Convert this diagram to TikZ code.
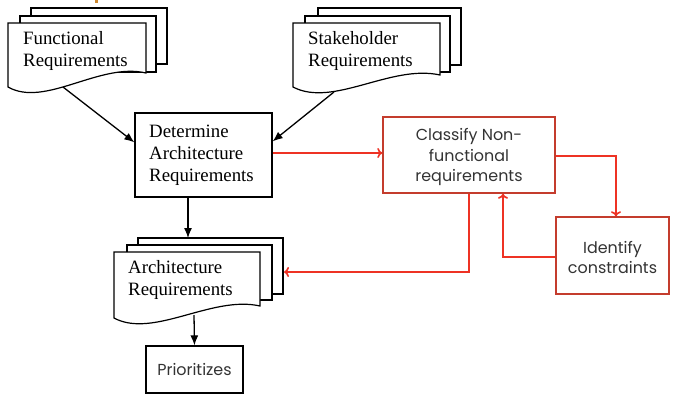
\documentclass[tikz,border=0pt]{standalone}
\usepackage{fontspec}
\setmainfont{Liberation Serif}
\newfontfamily\gothic{Poppins}
\usetikzlibrary{arrows.meta,calc}
\definecolor{arrowred}{RGB}{238,50,36}
\definecolor{boxred}{RGB}{196,60,45}
\definecolor{markorange}{RGB}{205,135,45}
\begin{document}
\begin{tikzpicture}[x=1bp,y=-1bp,
 page/.style={draw=black, fill=white, line width=1.2bp, line join=miter},
 blackbox/.style={draw=black, line width=1.3bp, fill=white},
 redbox/.style={draw=boxred, line width=1.5bp, fill=white},
 blk/.style={draw=black, line width=1.3bp, -{Latex[length=10bp,width=8bp]}},
 redarr/.style={draw=arrowred, line width=1.6bp, -{To[length=5bp,width=10bp]}},
 serif/.style={font=\fontsize{18.9}{22}\selectfont, align=left, inner sep=0, anchor=west},
 sans/.style={font=\gothic\fontsize{16}{20.5}\selectfont, align=center, inner sep=0, text=black!80}]
\useasboundingbox[fill=white] (0,0) rectangle (674,400);
\fill[markorange] (95,0) rectangle (97.5,3);

% Functional Requirements (multi-document)
\path[page] (31,8) rectangle (167,64);
\path[page] (20,16) rectangle (156,72);
\path[page] (146,73) -- (146,23) -- (8,23) -- (8,87) .. controls (45,108) and (100,62) .. cycle;
\node[serif] (func) at (23,51) {Functional\\Requirements};
\coordinate (func-out) at (63,87);

% Stakeholder Requirements (multi-document)
\path[page] (318,8) rectangle (461,65);
\path[page] (305,16) rectangle (450,72);
\path[page] (440,75) -- (440,23) -- (293,23) -- (293,87) .. controls (333,108) and (391,64) .. cycle;
\node[serif] (stake) at (308,51) {Stakeholder\\Requirements};
\coordinate (stake-out) at (334,92);

% Determine Architecture Requirements
\node[blackbox, minimum width=137bp, minimum height=84bp, inner sep=0] (det) at (203.5,155) {};
\node[serif] (dettext) at (149,155) {Determine\\Architecture\\Requirements};

% Architecture Requirements (multi-document)
\path[page] (138,238) rectangle (283,294);
\path[page] (127,245) rectangle (272,300);
\path[page] (260,306) -- (260,252) -- (114,252) -- (114,318) .. controls (153,339) and (212,295) .. cycle;
\node[serif] (arch) at (128,280) {Architecture\\Requirements};
\coordinate (arch-top) at (188,238);
\coordinate (arch-in) at (284,272);
\coordinate (arch-out) at (194,315);

% Prioritizes
\node[blackbox, minimum width=97bp, minimum height=47bp, inner sep=0, sans] (prio) at (194.5,369.5) {Prioritizes};

% Classify Non-functional requirements
\node[redbox, minimum width=172bp, minimum height=76bp, inner sep=0] (cls) at (469,155) {};
\node[sans] (clstext) at (469,157) {Classify Non-\\functional\\requirements};

% Identify constraints
\node[redbox, minimum width=113bp, minimum height=77bp, inner sep=0] (ident) at (612.5,255.5) {};
\node[sans] (identtext) at (612.5,257.5) {Identify\\constraints};

% black connectors
\draw[blk] (func-out) -- ($(det.north west)+(0,30)$);
\draw[blk] (stake-out) -- ($(det.north east)+(0,29)$);
\draw[blk] ($(det.south)+(-15.5,0)$) -- (arch-top);
\draw[blk] (arch-out) -- (prio.north);

% red connectors
\draw[redarr] ($(det.east)+(0,-2)$) -- ($(cls.west)+(0,-2)$);
\draw[redarr] ($(cls.east)+(0,1)$) -| ($(ident.north)+(3.5,0)$);
\draw[redarr] ($(ident.west)+(0,1.5)$) -| ($(cls.south)+(34,0)$);
\draw[redarr] (cls.south) |- (arch-in);
\end{tikzpicture}
\end{document}
